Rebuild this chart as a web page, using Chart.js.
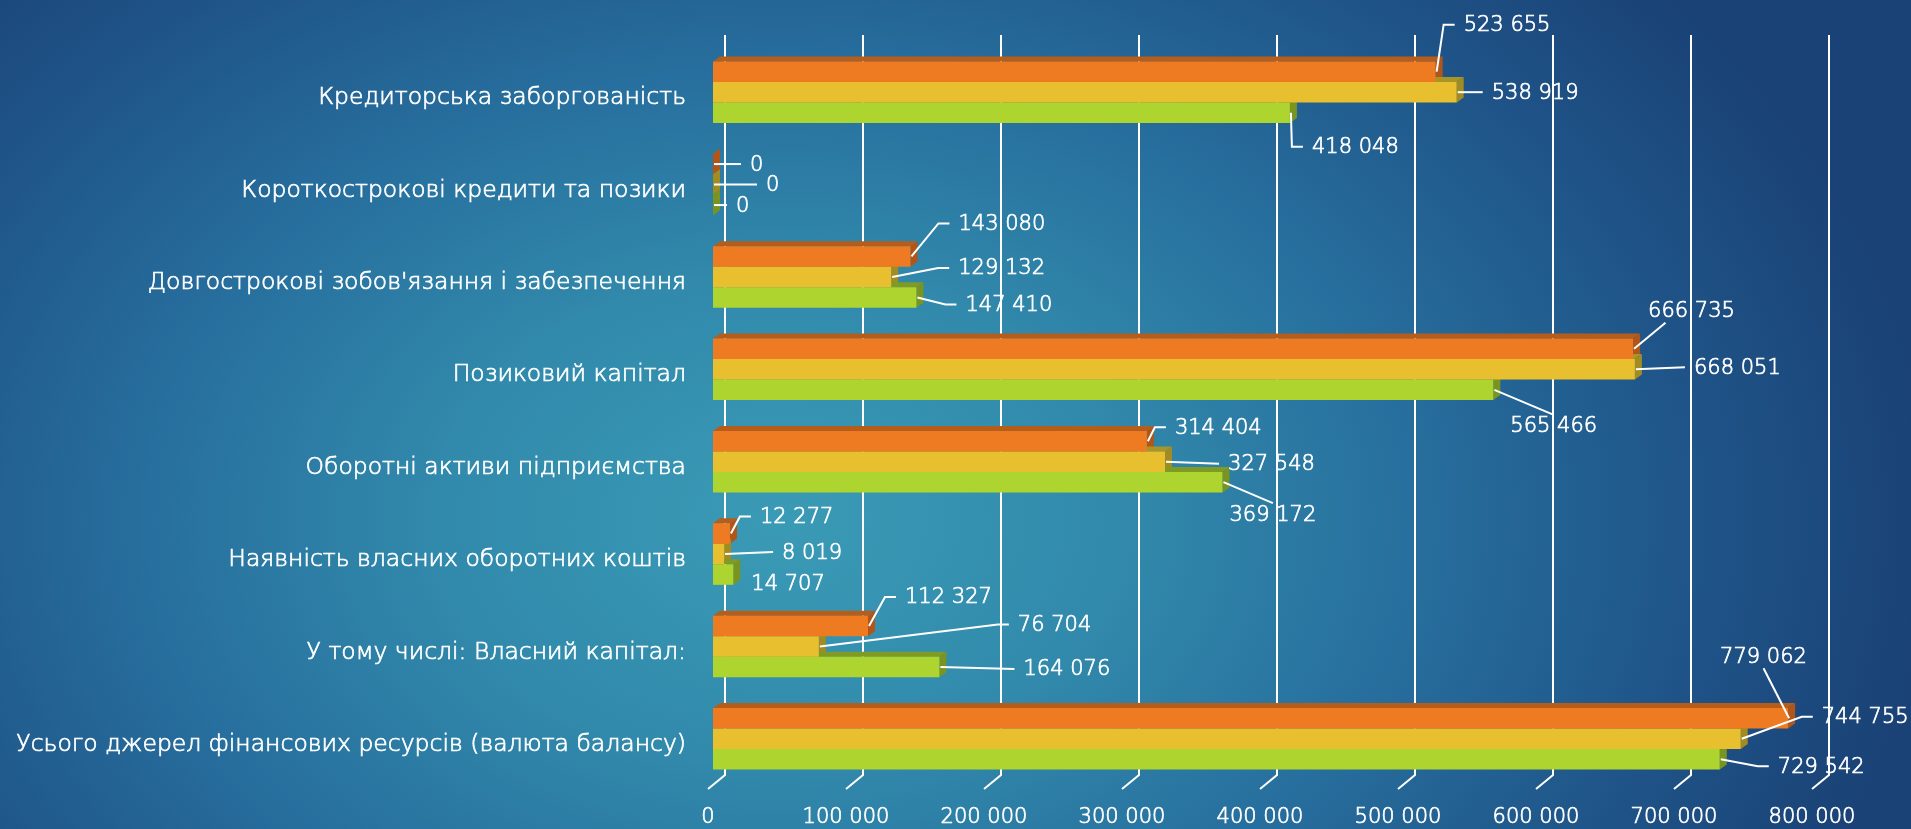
<!DOCTYPE html>
<html>
<head>
<meta charset="utf-8">
<script src="https://cdn.jsdelivr.net/npm/chart.js@4.4.1/dist/chart.umd.min.js"></script>
<style>
  html, body { margin: 0; padding: 0; width: 1911px; height: 829px; overflow: hidden; }
  body {
    background: radial-gradient(ellipse 1150px 820px at 780px 520px,
      #3a9bb6 0%, #3189ab 30%, #276f9e 55%, #1f5488 80%, #1a4276 100%);
  }
  canvas { display: block; }
</style>
</head>
<body>
<canvas id="chart" width="1911" height="829"></canvas>
<script>
// categories, top to bottom
const categories = [
  'Кредиторська заборгованість',
  'Короткострокові кредити та позики',
  "Довгострокові зобов'язання і забезпечення",
  'Позиковий капітал',
  'Оборотні активи підприємства',
  'Наявність власних оборотних коштів',
  'У тому числі: Власний капітал:',
  'Усього джерел фінансових ресурсів (валюта балансу)'
];

// three series per category (orange, yellow, green)
const seriesOrange = [523655, 0, 143080, 666735, 314404, 12277, 112327, 779062];
const seriesYellow = [538919, 0, 129132, 668051, 327548, 8019, 76704, 744755];
const seriesGreen  = [418048, 0, 147410, 565466, 369172, 14707, 164076, 729542];

// value axis
const xMin = 0;
const xMax = 800000;
const xStep = 100000;

const FONT = '"DejaVu Sans", sans-serif';
const WEIGHT = 300;
const TEXT_STROKE = 0.7;       // thickens the light face a little
const frontColors = ['#ee7b22', '#e8bf2f', '#aed52f'];
const topColors   = ['#b65d1c', '#a99525', '#809b24'];
const sideColors  = ['#b0561a', '#a08c22', '#7a9422'];
const DX = 7, DY = 5;          // bar depth
const WALL_DX = 12;            // back wall shift of the grid
const WALL_TOP = 35, WALL_BOTTOM = 775;

// data label placement: [dx, dy, leader] from the bar end
// leader: 'l' elbow to the left edge, 't' top centre, 'b' bottom, 'n' none
const labelPlace = [
  [[28, -47, 'l'], [35, 0, 'l'], [22, 34, 'l']],
  [[37, 0, 'l'], [53, 0, 'l'], [23, 0, 'l']],
  [[48, -33, 'l'], [67, -9, 'l'], [49, 7, 'l']],
  [[15, -38, 'b'], [59, -2, 'l'], [17, 36, 't']],
  [[28, -14, 'l'], [63, 2, 'l'], [7, 32, 't']],
  [[30, -17, 'l'], [58, -2, 'l'], [18, 9, 'n']],
  [[37, -29, 'l'], [199, -22, 'l'], [84, 2, 'l']],
  [[-68, -62, 'b'], [81, -22, 'l'], [58, 7, 'l']]
];

function fmt(v) {
  return String(v).replace(/\B(?=(\d{3})+(?!\d))/g, ' ');
}

const wallAndDepth = {
  id: 'wallAndDepth',
  beforeDatasetsDraw(chart) {
    const ctx = chart.ctx;
    const xs = chart.scales.x;
    ctx.save();
    // back wall grid with floor slashes
    ctx.strokeStyle = '#ffffff';
    ctx.lineWidth = 2;
    for (let v = xMin; v <= xMax; v += xStep) {
      const gx = Math.round(xs.getPixelForValue(v) + WALL_DX);
      ctx.beginPath();
      ctx.moveTo(gx, WALL_TOP);
      ctx.lineTo(gx, WALL_BOTTOM);
      ctx.lineTo(gx - 17, WALL_BOTTOM + 14);
      ctx.stroke();
    }
    // top and side faces of the bars
    chart.data.datasets.forEach((ds, j) => {
      chart.getDatasetMeta(j).data.forEach(bar => {
        const p = bar.getProps(['x', 'y', 'base', 'height'], true);
        const top = p.y - p.height / 2, bot = p.y + p.height / 2;
        ctx.fillStyle = topColors[j];
        ctx.beginPath();
        ctx.moveTo(p.base, top);
        ctx.lineTo(p.base + DX, top - DY);
        ctx.lineTo(p.x + DX, top - DY);
        ctx.lineTo(p.x, top);
        ctx.closePath();
        ctx.fill();
        ctx.fillStyle = sideColors[j];
        ctx.beginPath();
        ctx.moveTo(p.x, top);
        ctx.lineTo(p.x + DX, top - DY);
        ctx.lineTo(p.x + DX, bot - DY);
        ctx.lineTo(p.x, bot);
        ctx.closePath();
        ctx.fill();
      });
    });
    ctx.restore();
  }
};

const valueLabels = {
  id: 'valueLabels',
  afterDatasetsDraw(chart) {
    const ctx = chart.ctx;
    ctx.save();
    ctx.font = WEIGHT + ' 21px ' + FONT;
    ctx.fillStyle = '#ffffff';
    ctx.strokeStyle = '#ffffff';
    ctx.textAlign = 'left';
    ctx.textBaseline = 'middle';
    chart.data.datasets.forEach((ds, j) => {
      chart.getDatasetMeta(j).data.forEach((bar, i) => {
        const [dx, dy, mode] = labelPlace[i][j];
        const text = fmt(ds.data[i]);
        const w = ctx.measureText(text).width;
        const L = bar.x + dx, Y = bar.y + dy;
        const sx = bar.x + 1, sy = bar.y;
        ctx.lineWidth = 2;
        ctx.beginPath();
        if (mode === 'l') {
          ctx.moveTo(sx, sy);
          if (Math.abs(dy) > 3) ctx.lineTo(L - 20, Y);
          ctx.lineTo(L - 9, Y);
        } else if (mode === 't') {
          ctx.moveTo(sx, sy);
          ctx.lineTo(L + w / 2, Y - 11);
        } else if (mode === 'b') {
          ctx.moveTo(sx, sy);
          ctx.lineTo(L + w * (dx < 0 ? 0.5 : 0.2), Y + 12);
        }
        ctx.stroke();
        ctx.fillText(text, L, Y + 1);
        ctx.lineWidth = TEXT_STROKE;
        ctx.strokeText(text, L, Y + 1);
      });
    });
    ctx.restore();
  }
};

new Chart(document.getElementById('chart'), {
  type: 'bar',
  data: {
    labels: categories,
    datasets: [
      { label: 'Ряд 1', data: seriesOrange, backgroundColor: frontColors[0] },
      { label: 'Ряд 2', data: seriesYellow, backgroundColor: frontColors[1] },
      { label: 'Ряд 3', data: seriesGreen, backgroundColor: frontColors[2] }
    ]
  },
  options: {
    indexAxis: 'y',
    responsive: false,
    animation: false,
    devicePixelRatio: 1,
    layout: { padding: { top: 46, right: 94, left: 0, bottom: 0 } },
    datasets: { bar: { barPercentage: 1, categoryPercentage: 0.666, borderWidth: 0 } },
    plugins: { legend: { display: false }, tooltip: { enabled: false } },
    scales: {
      y: {
        grid: { display: false, drawTicks: false },
        border: { display: false },
        ticks: {
          color: '#ffffff',
          font: { family: FONT, size: 23.5, weight: WEIGHT },
          textStrokeColor: '#ffffff',
          textStrokeWidth: TEXT_STROKE,
          padding: 27,
          labelOffset: 6
        },
        afterFit(s) { s.width = 713; }
      },
      x: {
        min: xMin,
        max: xMax,
        grid: { display: false, drawTicks: false },
        border: { display: false },
        ticks: {
          stepSize: xStep,
          color: '#ffffff',
          font: { family: FONT, size: 21, weight: WEIGHT },
          textStrokeColor: '#ffffff',
          textStrokeWidth: TEXT_STROKE,
          padding: 20,
          labelOffset: -5,
          maxRotation: 0,
          callback: v => fmt(v)
        },
        afterFit(s) { s.height = 44; }
      }
    }
  },
  plugins: [wallAndDepth, valueLabels]
});
</script>
</body>
</html>
